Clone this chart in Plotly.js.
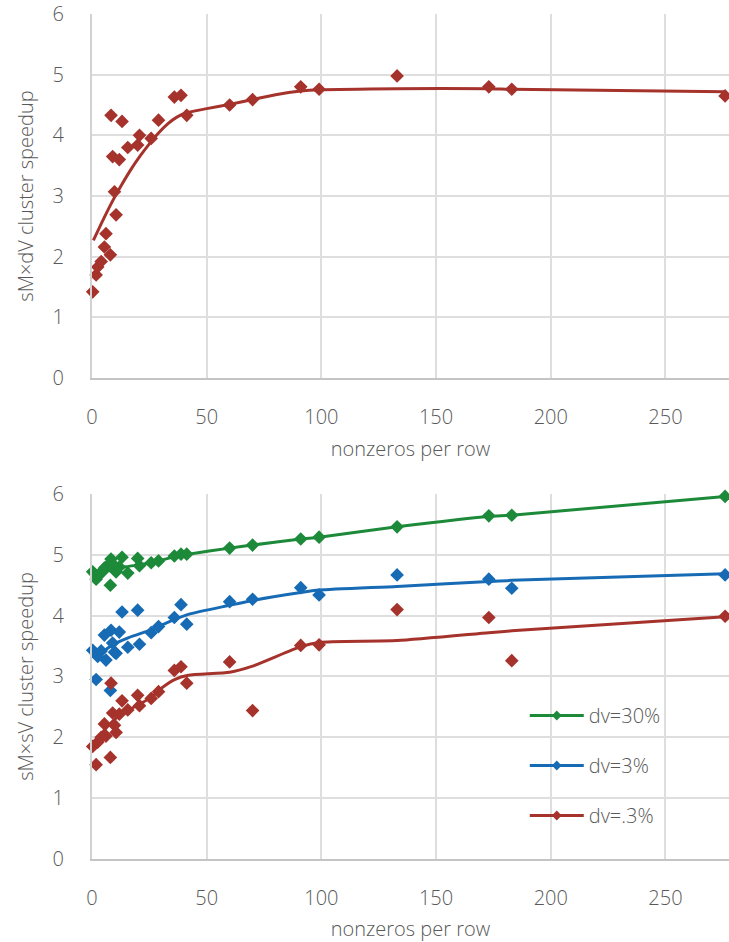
<!DOCTYPE html>
<html><head><meta charset="utf-8">
<script src="https://cdn.plot.ly/plotly-3.0.1.min.js"></script>
<style>html,body{margin:0;padding:0;background:#fff;}</style>
</head><body>
<div id="chart" style="width:729px;height:942px;"></div>
<script>
// nonzeros per row of each test matrix (shared by both panels)
const nnzPerRow = [0.3, 1.8, 2.5, 4.0, 5.4, 6.1, 8.0, 8.3, 9.0, 9.8, 10.5, 11.9, 13.1, 15.6, 19.9, 20.7, 25.8, 29.0, 35.9, 38.8, 41.3, 60, 70, 91, 99, 133, 173, 183, 276];

// top panel: sM×dV speedup
const dvSpeedup = [1.42, 1.70, 1.83, 1.92, 2.16, 2.38, 2.03, 4.33, 3.65, 3.07, 2.69, 3.60, 4.23, 3.80, 3.84, 4.00, 3.95, 4.25, 4.63, 4.66, 4.33, 4.50, 4.59, 4.80, 4.76, 4.98, 4.80, 4.76, 4.65];
const dvTrendX = [0.6, 5, 9, 13, 17, 21, 25, 29, 33, 37, 41, 50, 60, 70, 80, 91, 99, 133, 173, 183, 276];
const dvTrendY = [2.27, 2.62, 2.92, 3.19, 3.44, 3.66, 3.86, 4.04, 4.19, 4.30, 4.37, 4.44, 4.51, 4.59, 4.67, 4.73, 4.75, 4.77, 4.77, 4.76, 4.72];

// bottom panel: sM×sV speedup, three vector densities
const seriesNames = ['dv=30%', 'dv=3%', 'dv=.3%'];
const sv30 = [4.72, 4.60, 4.66, 4.70, 4.78, 4.80, 4.50, 4.93, 4.85, 4.75, 4.72, 4.80, 4.96, 4.70, 4.94, 4.82, 4.87, 4.90, 4.98, 5.01, 5.01, 5.11, 5.16, 5.26, 5.29, 5.46, 5.64, 5.65, 5.96];
const sv3  = [3.43, 2.95, 3.33, 3.42, 3.68, 3.27, 2.77, 3.76, 3.55, 3.40, 3.38, 3.73, 4.06, 3.48, 4.09, 3.53, 3.72, 3.82, 3.97, 4.18, 3.86, 4.23, 4.27, 4.46, 4.34, 4.67, 4.60, 4.45, 4.67];
const sv03 = [1.85, 1.55, 1.92, 2.00, 2.22, 2.02, 1.67, 2.89, 2.40, 2.20, 2.08, 2.38, 2.60, 2.45, 2.69, 2.52, 2.64, 2.75, 3.10, 3.16, 2.89, 3.24, 2.44, 3.51, 3.52, 4.10, 3.97, 3.26, 3.99];

const sv30TrendX = [2, 9, 16, 26, 36, 42, 60, 70, 91, 99, 133, 173, 183, 276];
const sv30TrendY = [4.64, 4.76, 4.81, 4.87, 4.97, 5.01, 5.11, 5.16, 5.26, 5.29, 5.46, 5.63, 5.65, 5.96];
const sv3TrendX  = [2, 9, 16, 26, 33, 42, 60, 70, 91, 99, 133, 173, 183, 276];
const sv3TrendY  = [3.33, 3.52, 3.64, 3.77, 3.89, 4.02, 4.17, 4.25, 4.38, 4.42, 4.48, 4.56, 4.58, 4.69];
const sv03TrendX = [0.5, 5, 10, 16, 21, 26, 30, 36, 42, 60, 70, 91, 99, 133, 173, 183, 276];
const sv03TrendY = [1.85, 2.10, 2.30, 2.45, 2.55, 2.66, 2.80, 2.95, 3.02, 3.07, 3.17, 3.49, 3.56, 3.59, 3.72, 3.75, 3.98];

const xTicks = [0, 50, 100, 150, 200, 250];
const yTicks = [0, 1, 2, 3, 4, 5, 6];

const RED = '#a6322c', GREEN = '#1d8a3a', BLUE = '#176bb5';
const FONT = '"Open Sans", "Noto Sans", sans-serif';
const TXT = '#595959';

function markerTrace(y, color, xa, ya) {
  return {x: nnzPerRow, y: y, xaxis: xa, yaxis: ya, type: 'scatter', mode: 'markers',
    marker: {symbol: 'diamond', size: 10.5, color: color}, cliponaxis: false,
    showlegend: false, hoverinfo: 'x+y'};
}
function lineTrace(x, y, color, xa, ya, name, legend) {
  const colors = x.map((v, i) => i === 0 ? color : 'rgba(0,0,0,0)');
  return {x: x, y: y, xaxis: xa, yaxis: ya, type: 'scatter',
    mode: legend ? 'lines+markers' : 'lines', name: name,
    line: {color: color, width: 3, shape: 'spline', smoothing: 0.6},
    marker: {symbol: 'diamond', size: 7.5, color: colors},
    cliponaxis: false, showlegend: !!legend, legendgroup: name};
}

const data = [
  lineTrace(dvTrendX, dvTrendY, RED, 'x', 'y', 'trend', false),
  markerTrace(dvSpeedup, RED, 'x', 'y'),
  lineTrace(sv30TrendX, sv30TrendY, GREEN, 'x2', 'y2', seriesNames[0], true),
  lineTrace(sv3TrendX, sv3TrendY, BLUE, 'x2', 'y2', seriesNames[1], true),
  lineTrace(sv03TrendX, sv03TrendY, RED, 'x2', 'y2', seriesNames[2], true),
  markerTrace(sv30, GREEN, 'x2', 'y2'),
  markerTrace(sv3, BLUE, 'x2', 'y2'),
  markerTrace(sv03, RED, 'x2', 'y2')
];

function xAxis(anchor) {
  return {anchor: anchor, domain: [0, 1], range: [0, 277.7], tickvals: xTicks,
    showgrid: true, gridcolor: '#dedede', gridwidth: 2, zeroline: false,
    showline: true, linecolor: '#c4c4c4', linewidth: 2, ticks: '',
    ticklabelstandoff: 20,
    tickfont: {family: FONT, size: 20, color: TXT, weight: 300},
    title: {text: 'nonzeros per row', standoff: 13, font: {family: FONT, size: 20, color: TXT, weight: 300}}};
}
function yAxis(anchor, domain, title) {
  return {anchor: anchor, domain: domain, range: [0, 6], tickvals: yTicks,
    showgrid: true, gridcolor: '#dedede', gridwidth: 2, zeroline: false,
    showline: true, linecolor: '#d2d2d2', linewidth: 2, ticks: '',
    ticklabelstandoff: 22,
    tickfont: {family: FONT, size: 20, color: TXT, weight: 300},
    title: {text: title, standoff: 14, font: {family: FONT, size: 20, color: TXT, weight: 300}}};
}

const layout = {
  width: 729, height: 942,
  margin: {l: 92, r: 0, t: 14, b: 83},
  paper_bgcolor: '#fff', plot_bgcolor: '#fff',
  font: {family: FONT, color: TXT},
  xaxis: xAxis('y'),
  yaxis: yAxis('x', [0.5692, 1], 'sM×dV cluster speedup'),
  xaxis2: xAxis('y2'),
  yaxis2: yAxis('x2', [0, 0.4320], 'sM×sV cluster speedup'),
  showlegend: true,
  legend: {x: 0.6794, y: 0.1929, xanchor: 'left', yanchor: 'top',
    bgcolor: 'rgba(255,255,255,0)', borderwidth: 0,
    traceorder: 'grouped', tracegroupgap: 21, itemwidth: 54,
    font: {family: FONT, size: 20, color: TXT, weight: 300}}
};

Plotly.newPlot('chart', data, layout, {displayModeBar: false, staticPlot: true});
</script>
</body></html>
